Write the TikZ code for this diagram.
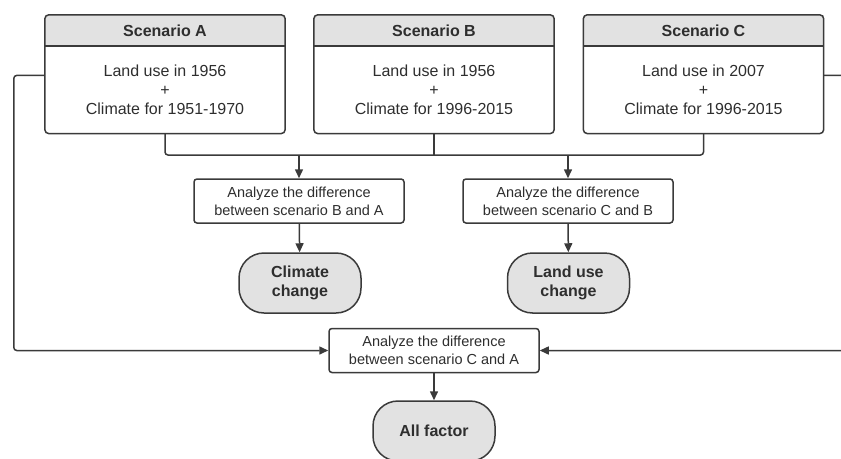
\documentclass[tikz,border=0pt]{standalone}
\usepackage{fontspec}
\setmainfont{Liberation Sans}
\usetikzlibrary{positioning,arrows.meta}

\definecolor{linegray}{HTML}{3A3A3A}
\definecolor{textgray}{HTML}{2E2E2E}
\definecolor{hdrgray}{HTML}{E2E2E2}

\tikzset{
    line/.style={draw=linegray, line width=1.5pt},
    arr/.style={line, -{Triangle[length=9pt,width=8pt]}},
    schead/.style={fill=hdrgray, minimum width=240pt, minimum height=31pt, inner sep=0pt,
        font=\fontsize{16}{19}\selectfont\bfseries, text=textgray},
    scbody/.style={minimum width=240pt, minimum height=87pt, inner sep=0pt, align=center,
        font=\fontsize{16}{19}\selectfont, text=textgray},
    anbox/.style={line, fill=white, rounded corners=3pt, minimum width=210pt, minimum height=44pt,
        inner sep=0pt, align=center, font=\fontsize{14.5}{18}\selectfont, text=textgray},
    result/.style={line, fill=hdrgray, rounded corners=25pt, minimum width=122pt, minimum height=60pt,
        inner sep=0pt, align=center, font=\fontsize{16}{19}\selectfont\bfseries, text=textgray},
}

\begin{document}
\begin{tikzpicture}[x=1pt, y=-1pt]
    \useasboundingbox (0,0) rectangle (841,458);
    \clip (0,0) rectangle (841,458);

    % scenario headers and bodies
    \node[schead] (hA) at (165,30.5) {Scenario A};
    \node[scbody, below=0pt of hA] (A) {Land use in 1956\\+\\Climate for 1951-1970};

    \node[schead] (hB) at (434,30.5) {Scenario B};
    \node[scbody, below=0pt of hB] (B) {Land use in 1956\\+\\Climate for 1996-2015};

    \node[schead] (hC) at (703.5,30.5) {Scenario C};
    \node[scbody, below=0pt of hC] (C) {Land use in 2007\\+\\Climate for 1996-2015};

    % frames of the scenario boxes
    \foreach \s in {A,B,C} {
        \draw[line, rounded corners=4pt] (h\s.north west) rectangle (\s.south east);
        \draw[line] (h\s.south west) -- (h\s.south east);
    }

    % difference boxes
    \node[anbox] (anBA) at (299,201) {Analyze the difference\\between scenario B and A};
    \node[anbox] (anCB) at (568,201) {Analyze the difference\\between scenario C and B};
    \node[anbox] (anCA) at (434,350.5) {Analyze the difference\\between scenario C and A};

    % results
    \node[result] (climate) at (300,283) {Climate\\change};
    \node[result] (landuse) at (568.5,283) {Land use\\change};
    \node[result] (allf) at (434,431) {All factor};

    % joining lines below the scenarios
    \coordinate (jB) at (434,155);
    \draw[line, rounded corners=3pt] (A.south) |- (jB);
    \draw[line, rounded corners=3pt] (C.south) |- (jB);
    \draw[line] (B.south) -- (jB);

    \draw[arr] (anBA.north |- jB) -- (anBA);
    \draw[arr] (anCB.north |- jB) -- (anCB);

    \draw[arr] (anBA) -- (climate);
    \draw[arr] (anCB) -- (landuse);
    \draw[arr] (anCA) -- (allf);

    % side lines from A and C to the last box
    \draw[arr, rounded corners=3pt] ([yshift=14.5pt]A.west) -- ++(-31,0) |- (anCA.west);
    \draw[arr, rounded corners=3pt] ([yshift=14.5pt]C.east) -- ++(40,0) |- (anCA.east);
\end{tikzpicture}
\end{document}
